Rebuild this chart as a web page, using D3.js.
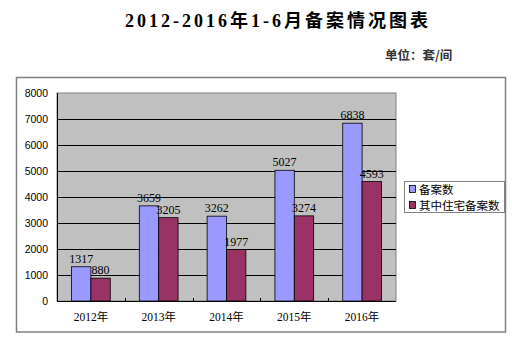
<!DOCTYPE html>
<html><head><meta charset="utf-8">
<script src="https://cdn.jsdelivr.net/npm/d3@7"></script>
<style>
html,body{margin:0;padding:0;background:#fff;}
svg{display:block;}
</style></head>
<body>
<svg id="c" width="526" height="344"></svg>
<script>
const categories = ["2012年","2013年","2014年","2015年","2016年"];
const seriesNames = ["备案数","其中住宅备案数"];
const filingCounts = [1317, 3659, 3262, 5027, 6838];
const residentialCounts = [880, 3205, 1977, 3274, 4593];
const yTicks = [0,1000,2000,3000,4000,5000,6000,7000,8000];
const colors = ["#9999FF","#993366"];

(function(){
const svg = d3.select("#c");
const serif = "'Liberation Serif','Noto Sans CJK SC',serif";
const cjk = "'Noto Sans CJK SC',sans-serif";

// outer frame
svg.append("rect").attr("x",16.5).attr("y",77.5).attr("width",489).attr("height",254.5)
  .attr("fill","#fff").attr("stroke","#808080").attr("stroke-width",1.5);

// title
svg.append("text").attr("x",278).attr("y",27).attr("text-anchor","middle")
  .attr("font-family",serif).attr("font-weight","bold").attr("font-size",18)
  .attr("letter-spacing",3).attr("fill","#000")
  .text("2012-2016年1-6月备案情况图表");
svg.append("text").attr("x",385).attr("y",60)
  .attr("font-family",cjk).attr("font-weight","bold").attr("font-size",12.5)
  .attr("fill","#333").text("单位：套/间");

const pL=57, pR=396, pT=93, pB=301;
const x0 = d3.scaleBand().domain(categories).range([pL,pR]).padding(0);
const x1 = d3.scaleBand().domain(seriesNames).range([0,x0.bandwidth()]).paddingInner(0).paddingOuter(0.75);
const y = d3.scaleLinear().domain([0,8000]).range([pB,pT]);

// plot area
svg.append("rect").attr("x",pL).attr("y",pT).attr("width",pR-pL).attr("height",pB-pT)
  .attr("fill","#C0C0C0").attr("stroke","#808080").attr("stroke-width",1);

// gridlines
svg.append("g").selectAll("line").data(yTicks.filter(d=>d>0 && d<8000)).join("line")
  .attr("x1",pL).attr("x2",pR).attr("y1",d=>Math.round(y(d))+0.5).attr("y2",d=>Math.round(y(d))+0.5)
  .attr("stroke","#000").attr("stroke-width",1);

// y axis labels
svg.append("g").selectAll("text").data(yTicks).join("text")
  .attr("x",48).attr("y",d=>y(d)+4).attr("text-anchor","end")
  .attr("font-family","'Liberation Sans',Arial,sans-serif").attr("font-size",10.5).attr("fill","#000")
  .text(d=>d);

const data = categories.map((c,i)=>({cat:c, vals:[filingCounts[i], residentialCounts[i]]}));
const groups = svg.append("g").selectAll("g").data(data).join("g")
  .attr("transform",d=>`translate(${x0(d.cat)},0)`);
groups.selectAll("rect").data(d=>d.vals.map((v,j)=>({v, s:seriesNames[j], j}))).join("rect")
  .attr("x",d=>x1(d.s)).attr("width",x1.bandwidth())
  .attr("y",d=>y(d.v)).attr("height",d=>pB-y(d.v))
  .attr("fill",d=>colors[d.j]).attr("stroke","#000").attr("stroke-width",0.8);
groups.selectAll("text").data(d=>d.vals.map((v,j)=>({v, s:seriesNames[j], j}))).join("text")
  .attr("x",d=>x1(d.s)+x1.bandwidth()/2).attr("y",d=>y(d.v)-4)
  .attr("text-anchor","middle").attr("font-family",serif).attr("font-size",12).attr("fill","#000")
  .text(d=>d.v);

// axes lines
svg.append("line").attr("x1",pL+0.5).attr("x2",pL+0.5).attr("y1",pT).attr("y2",pB).attr("stroke","#000");
svg.append("line").attr("x1",pL).attr("x2",pR).attr("y1",pB+0.5).attr("y2",pB+0.5).attr("stroke","#000");
// x ticks at category boundaries
svg.append("g").selectAll("line").data(categories.slice(1)).join("line")
  .attr("x1",d=>Math.round(x0(d))+0.5).attr("x2",d=>Math.round(x0(d))+0.5)
  .attr("y1",pB-3).attr("y2",pB+1).attr("stroke","#000");
// x labels
svg.append("g").selectAll("text").data(categories).join("text")
  .attr("x",d=>x0(d)+x0.bandwidth()/2).attr("y",321).attr("text-anchor","middle")
  .attr("font-family",serif).attr("font-size",11.5).attr("fill","#000")
  .text(d=>d);

// legend
const lg = svg.append("g");
lg.append("rect").attr("x",404.5).attr("y",181.5).attr("width",100).attr("height",31)
  .attr("fill","#fff").attr("stroke","#808080").attr("stroke-width",1);
seriesNames.forEach((s,i)=>{
  const yy = 189 + i*16;
  lg.append("rect").attr("x",409.5).attr("y",yy-3.5).attr("width",6).attr("height",7)
    .attr("fill",colors[i]).attr("stroke","#000").attr("stroke-width",0.8);
  lg.append("text").attr("x",419).attr("y",yy+4.5)
    .attr("font-family",cjk).attr("font-size",11.5).attr("fill","#000").text(s);
});
})();
</script>
</body></html>
